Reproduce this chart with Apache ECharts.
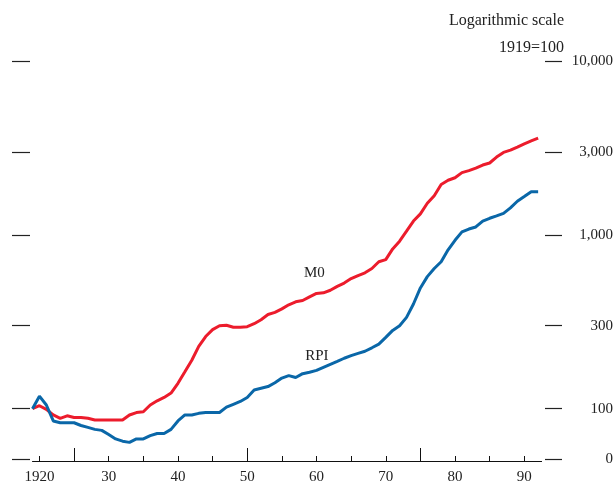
<!DOCTYPE html>
<html>
<head>
<meta charset="utf-8">
<script src="https://cdn.jsdelivr.net/npm/echarts@6/dist/echarts.min.js"></script>
<style>
  html, body { margin: 0; padding: 0; background: #fff; }
  #chart { width: 616px; height: 486px; }
</style>
</head>
<body>
<div id="chart"></div>
<script>
// 1919 = 100, annual
const years = [];
for (let y = 1919; y <= 1992; y++) years.push(y);

const m0 = [
  100, 104, 99, 92, 88, 91, 89, 89, 88, 86,
  86, 86, 86, 86, 92, 95, 96, 105, 111, 116,
  123, 140, 163, 190, 228, 260, 285, 300, 302, 294,
  294, 296, 308, 325, 348, 358, 375, 396, 412, 419,
  440, 460, 464, 480, 505, 528, 560, 583, 605, 640,
  700, 720, 830, 920, 1050, 1200, 1320, 1520, 1680, 1950,
  2060, 2130, 2280, 2340, 2420, 2520, 2590, 2800, 2980, 3070,
  3200, 3340, 3470, 3600
];
const rpi = [
  100, 118, 105, 85, 83, 83, 83, 80, 78, 76,
  75, 71, 67, 65, 64, 67, 67, 70, 72, 72,
  76, 85, 92, 92, 94, 95, 95, 95, 102, 106,
  110, 116, 128, 131, 134, 141, 150, 155, 151, 159,
  162, 166, 173, 180, 187, 195, 202, 208, 214, 224,
  235, 257, 282, 300, 335, 400, 495, 575, 640, 700,
  820, 930, 1040, 1080, 1110, 1200, 1245, 1285, 1330, 1430,
  1560, 1660, 1770, 1770
];

// bottom "0" tick sits just above the axis break
const yTicks = [51.5, 100, 300, 1000, 3000, 10000];
const yTickLabels = ['0', '100', '300', '1,000', '3,000', '10,000'];
const xSmallTicks = [1920, 1925, 1930, 1935, 1940, 1945, 1950, 1955, 1960, 1965, 1970, 1975, 1980, 1985, 1990];
const xBigTicks = [1925, 1950, 1975];
const xLabels = [1920, 1930, 1940, 1950, 1960, 1970, 1980, 1990];

const font = 'Liberation Serif';
const txt = '#222';

const chart = echarts.init(document.getElementById('chart'));

const pairs = (vals) => years.map((y, i) => [y, vals[i]]);
const yLabel = (v) => {
  const i = yTicks.findIndex(t => Math.abs(t - v) / t < 0.01);
  return i < 0 ? '' : yTickLabels[i];
};

const option = {
  animation: false,
  grid: { left: 32.5, right: 73.4, top: 61, bottom: 25 },
  graphic: [
    { type: 'text', right: 52, top: 13, style: { text: 'Logarithmic scale', font: '16px "Liberation Serif"', fill: txt } },
    { type: 'text', right: 52, top: 40, style: { text: '1919=100', font: '16px "Liberation Serif"', fill: txt } }
  ],
  xAxis: [
    {
      type: 'value', min: 1919, max: 1992.5,
      splitLine: { show: false },
      axisLine: { show: true, lineStyle: { color: '#111', width: 1 } },
      axisTick: { show: true, inside: true, length: 5, customValues: xSmallTicks, lineStyle: { color: '#111' } },
      axisLabel: {
        customValues: xLabels, margin: 9,
        fontFamily: font, fontSize: 15, color: txt,
        formatter: (v) => v === 1920 ? '1920' : String(v % 100)
      }
    },
    {
      type: 'value', min: 1919, max: 1992.5, position: 'bottom',
      splitLine: { show: false },
      axisLine: { show: false },
      axisTick: { show: true, inside: true, length: 13, customValues: xBigTicks, lineStyle: { color: '#111' } },
      axisLabel: { show: false }
    }
  ],
  yAxis: [
    {
      type: 'log', min: 50, max: 10000, position: 'left', offset: 2.5,
      splitLine: { show: false },
      axisLine: { show: false },
      axisTick: { show: true, length: 18, customValues: yTicks, lineStyle: { color: '#222', width: 1.2 } },
      axisLabel: { show: false }
    },
    {
      type: 'log', min: 50, max: 10000, position: 'right', offset: 3.4,
      splitLine: { show: false },
      axisLine: { show: false },
      axisTick: { show: true, length: 17, customValues: yTicks, lineStyle: { color: '#222', width: 1.2 } },
      axisLabel: {
        customValues: yTicks, margin: 68, align: 'right',
        fontFamily: font, fontSize: 15, color: txt,
        formatter: yLabel
      }
    }
  ],
  series: [
    {
      name: 'M0', type: 'line', data: pairs(m0), showSymbol: false,
      lineStyle: { color: '#ec1c2c', width: 3 },
      markPoint: {
        symbol: 'circle', symbolSize: 1, itemStyle: { color: 'transparent' },
        label: { show: true, position: 'inside', formatter: 'M0', fontFamily: font, fontSize: 15, color: txt },
        data: [{ coord: [1959.7, 600] }]
      }
    },
    {
      name: 'RPI', type: 'line', data: pairs(rpi), showSymbol: false,
      lineStyle: { color: '#0a67a8', width: 3 },
      markPoint: {
        symbol: 'circle', symbolSize: 1, itemStyle: { color: 'transparent' },
        label: { show: true, position: 'inside', formatter: 'RPI', fontFamily: font, fontSize: 15, color: txt },
        data: [{ coord: [1960.05, 200] }]
      }
    }
  ]
};

chart.setOption(option);
</script>
</body>
</html>
